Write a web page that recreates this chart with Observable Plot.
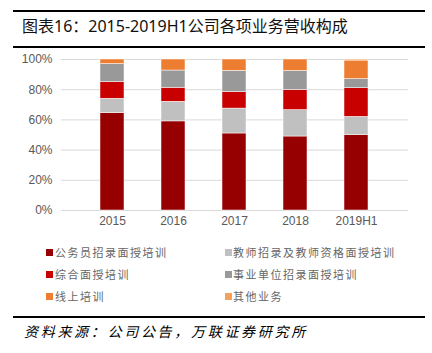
<!DOCTYPE html>
<html><head><meta charset="utf-8">
<script src="https://cdn.jsdelivr.net/npm/d3@7"></script>
<script src="https://cdn.jsdelivr.net/npm/@observablehq/plot@0.6"></script>
<style>
body{margin:0;background:#fff;}
#wrap{position:relative;width:432px;height:353px;overflow:hidden;font-family:"Noto Sans CJK SC","Noto Sans",sans-serif;}
.hline{position:absolute;left:13px;width:412px;background:#000;}
#title{position:absolute;left:22px;top:13px;font-size:16px;color:#111;white-space:nowrap;font-weight:400;font-family:"Noto Sans","Noto Sans CJK SC",sans-serif;}
#chart{position:absolute;left:0;top:50px;}
.leg{position:absolute;font-size:11px;color:#666;letter-spacing:1.5px;white-space:nowrap;line-height:14px;}
.sw{position:absolute;width:7px;height:7px;}
#src{position:absolute;left:24px;top:322px;font-size:14px;font-style:italic;letter-spacing:2.7px;color:#000;white-space:nowrap;line-height:18px;}
</style></head>
<body><div id="wrap">
<div class="hline" style="top:10px;height:2px"></div>
<div id="title">图表16：2015-2019H1公司各项业务营收构成</div>
<div class="hline" style="top:46px;height:2px"></div>
<div id="chart"></div>
<div id="legend"></div>
<div class="hline" style="top:316px;height:2px"></div>
<div id="src">资料来源：公司公告，万联证券研究所</div>
</div>
<script>
const years = ["2015","2016","2017","2018","2019H1"];
const seriesNames = ["公务员招录面授培训","教师招录及教师资格面授培训","综合面授培训","事业单位招录面授培训","线上培训","其他业务"];
const colors = ["#960000","#C0C0C0","#C80000","#999999","#ED7D31","#F4A15E"];
const civil = [64.5, 59, 51, 49, 50];
const teacher = [9.5, 13, 16.5, 17.5, 12];
const comprehensive = [11, 9.3, 11, 13.4, 19];
const institution = [12, 11.4, 14, 12.5, 6];
const online = [3, 7.3, 7.5, 7.6, 12.3];
const other = [0, 0, 0, 0, 0.7];
const yTicks = [0, 20, 40, 60, 80, 100];

const seriesValues = [civil, teacher, comprehensive, institution, online, other];
const data = [];
seriesNames.forEach((s, i) => years.forEach((y, j) => data.push({year: y, series: s, value: seriesValues[i][j]})));

const chart = Plot.plot({
  width: 432, height: 190,
  marginTop: 9, marginBottom: 30, marginLeft: 61, marginRight: 24,
  style: {fontFamily: "'Liberation Sans', Arial, sans-serif", fontSize: "12px", color: "#595959", background: "transparent"},
  x: {domain: years, padding: 0.6, label: null, tickSize: 0, tickPadding: 7},
  y: {domain: [0, 100], ticks: yTicks, tickFormat: d => d + "%", label: null, tickSize: 0, tickPadding: 9},
  color: {domain: seriesNames, range: colors},
  marks: [
    Plot.gridY(yTicks, {stroke: "#D9D9D9", strokeOpacity: 1, strokeWidth: 1}),
    Plot.barY(data, Plot.stackY({x: "year", y: "value", fill: "series", stroke: "#fff", strokeWidth: 0.5})),
    Plot.axisX({tickSize: 0, tickPadding: 6, label: null}),
    Plot.axisY({ticks: yTicks, tickFormat: d => d + "%", tickSize: 0, tickPadding: 9, label: null})
  ]
});
document.getElementById("chart").appendChild(chart);

const legend = document.getElementById("legend");
const rowsY = [252, 274, 296];
seriesNames.forEach((s, i) => {
  const col = i % 2, row = Math.floor(i / 2);
  const sx = col === 0 ? 46 : 225;
  const tx = col === 0 ? 55 : 233;
  const sw = document.createElement("div");
  sw.className = "sw";
  sw.style.left = sx + "px"; sw.style.top = (rowsY[row] - 3.5) + "px"; sw.style.background = colors[i];
  legend.appendChild(sw);
  const t = document.createElement("div");
  t.className = "leg";
  t.style.left = tx + "px"; t.style.top = (rowsY[row] - 7) + "px";
  t.textContent = s;
  legend.appendChild(t);
});
</script>
</body></html>
